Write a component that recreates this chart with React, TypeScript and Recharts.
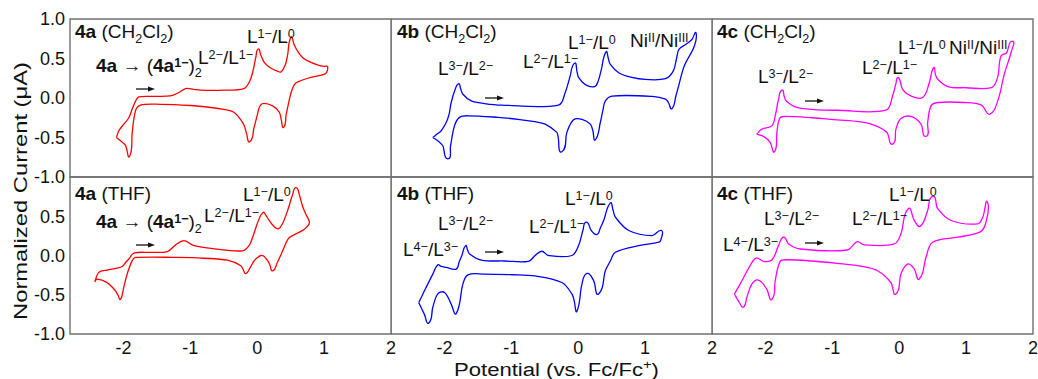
import { Line, LineChart, ReferenceArea, XAxis, YAxis } from "recharts";

const FONT = '"Liberation Sans", Arial, Helvetica, sans-serif';

// [potential (V vs Fc/Fc+), normalized current (µA)], loop order
const cv4aDcm: [number, number][] = [
	[-2.105, -0.5], [-2.07, -0.415], [-1.995, -0.33], [-1.92, -0.25], [-1.87, -0.14], [-1.82, -0.04],
	[-1.77, 0.013], [-1.55, 0.02], [-1.3, 0.026], [-1.17, 0.07], [-1.07, 0.12], [-0.95, 0.11],
	[-0.85, 0.1], [-0.5, 0.1], [-0.2, 0.12], [-0.12, 0.2], [-0.07, 0.32], [-0.02, 0.52], [0.015, 0.62],
	[0.05, 0.55], [0.105, 0.45], [0.2, 0.38], [0.3, 0.34], [0.355, 0.33], [0.42, 0.42], [0.455, 0.55],
	[0.505, 0.77], [0.55, 0.68], [0.605, 0.59], [0.68, 0.51], [0.755, 0.47], [0.9, 0.42], [1.0, 0.4],
	[1.05, 0.4], [1.04, 0.33], [1.0, 0.3], [0.755, 0.25], [0.6, 0.2], [0.555, 0.17], [0.51, 0.08],
	[0.48, -0.02], [0.43, -0.22], [0.395, -0.37], [0.36, -0.28], [0.33, -0.18], [0.23, -0.1],
	[0.08, -0.07], [0.03, -0.12], [0.005, -0.2], [-0.05, -0.38], [-0.11, -0.555], [-0.16, -0.45],
	[-0.205, -0.33], [-0.35, -0.18], [-0.5, -0.145], [-0.695, -0.12], [-1.0, -0.095], [-1.445, -0.08],
	[-1.745, -0.09], [-1.82, -0.16], [-1.87, -0.44], [-1.91, -0.74], [-1.97, -0.6], [-2.045, -0.54],
	[-2.105, -0.5],
];

const cv4aThf: [number, number][] = [
	[-2.43, -0.335], [-2.37, -0.215], [-2.245, -0.185], [-2.1, -0.16], [-2.02, -0.14], [-1.96, -0.08],
	[-1.92, -0.045], [-1.845, 0.03], [-1.6, 0.04], [-1.345, 0.05], [-1.22, 0.135], [-1.095, 0.19],
	[-0.945, 0.125], [-0.645, 0.085], [-0.22, 0.06], [-0.12, 0.13], [-0.07, 0.23], [0.02, 0.45],
	[0.09, 0.55], [0.13, 0.51], [0.18, 0.445], [0.25, 0.37], [0.315, 0.34], [0.38, 0.41], [0.455, 0.575],
	[0.53, 0.78], [0.58, 0.865], [0.63, 0.77], [0.68, 0.62], [0.73, 0.52], [0.78, 0.425], [0.75, 0.37],
	[0.68, 0.32], [0.48, 0.23], [0.43, 0.16], [0.38, 0.06], [0.3, -0.09], [0.23, -0.195], [0.19, -0.12],
	[0.155, -0.065], [0.1, -0.01], [0.055, 0.0], [0.0, -0.03], [-0.045, -0.065], [-0.11, -0.16],
	[-0.17, -0.23], [-0.21, -0.18], [-0.245, -0.13], [-0.445, -0.06], [-0.8, -0.035], [-1.195, -0.025],
	[-1.82, -0.025], [-1.87, -0.065], [-1.945, -0.235], [-2.0, -0.42], [-2.045, -0.56], [-2.08, -0.51],
	[-2.12, -0.45], [-2.245, -0.345], [-2.395, -0.3], [-2.43, -0.335],
];

const cv4bDcm: [number, number][] = [
	[-2.175, -0.5], [-2.1, -0.45], [-2.05, -0.415], [-1.975, -0.31], [-1.93, -0.2], [-1.9, -0.057],
	[-1.84, 0.11], [-1.79, 0.18], [-1.76, 0.12], [-1.725, 0.047], [-1.6, -0.037], [-1.4, -0.07],
	[-1.15, -0.09], [-0.295, -0.09], [-0.195, 0.07], [-0.12, 0.28], [-0.055, 0.44], [-0.02, 0.34],
	[0.005, 0.26], [0.105, 0.17], [0.245, 0.145], [0.3, 0.22], [0.345, 0.36], [0.415, 0.585], [0.45, 0.5],
	[0.48, 0.425], [0.605, 0.32], [0.8, 0.26], [1.005, 0.235], [1.305, 0.245], [1.42, 0.34], [1.47, 0.5],
	[1.505, 0.615], [1.61, 0.68], [1.7, 0.74], [1.76, 0.825], [1.735, 0.655], [1.585, 0.405], [1.5, 0.15],
	[1.46, 0.025], [1.4, -0.135], [1.35, -0.06], [1.305, -0.015], [1.11, 0.02], [0.505, 0.025],
	[0.405, -0.037], [0.37, -0.15], [0.33, -0.31], [0.255, -0.53], [0.22, -0.42], [0.18, -0.33],
	[0.055, -0.27], [-0.07, -0.275], [-0.17, -0.435], [-0.245, -0.68], [-0.3, -0.5], [-0.32, -0.435],
	[-0.495, -0.33], [-0.65, -0.3], [-0.9, -0.27], [-1.2, -0.245], [-1.65, -0.225], [-1.775, -0.245],
	[-1.85, -0.35], [-1.91, -0.605], [-1.95, -0.77], [-2.025, -0.605], [-2.1, -0.54], [-2.175, -0.5],
];

const cv4bThf: [number, number][] = [
	[-2.385, -0.6], [-2.3, -0.45], [-2.175, -0.237], [-2.1, -0.118], [-2.05, -0.14], [-1.975, -0.151],
	[-1.825, -0.173], [-1.78, -0.08], [-1.74, 0.0], [-1.685, 0.126], [-1.655, 0.07], [-1.625, 0.019],
	[-1.45, -0.058], [-1.1, -0.07], [-0.745, -0.075], [-0.645, 0.0], [-0.545, 0.054], [-0.445, 0.0],
	[-0.095, 0.0], [0.005, 0.126], [0.07, 0.32], [0.12, 0.425], [0.195, 0.318], [0.28, 0.267],
	[0.33, 0.35], [0.38, 0.446], [0.48, 0.67], [0.52, 0.58], [0.555, 0.49], [0.755, 0.318],
	[1.105, 0.254], [1.245, 0.318], [1.235, 0.2], [1.205, 0.169], [0.905, 0.126], [0.555, 0.041],
	[0.48, -0.07], [0.405, -0.195], [0.305, -0.49], [0.23, -0.32], [0.13, -0.228], [0.055, -0.365],
	[-0.02, -0.71], [-0.06, -0.58], [-0.095, -0.49], [-0.245, -0.344], [-0.645, -0.26], [-1.0, -0.245],
	[-1.4, -0.237], [-1.65, -0.246], [-1.725, -0.365], [-1.825, -0.74], [-1.9, -0.62], [-2.0, -0.47],
	[-2.1, -0.49], [-2.175, -0.66], [-2.235, -0.86], [-2.3, -0.75], [-2.385, -0.6],
];

const cv4cDcm: [number, number][] = [
	[-2.13, -0.457], [-2.055, -0.394], [-1.905, -0.353], [-1.855, -0.227], [-1.805, -0.016],
	[-1.755, 0.1], [-1.72, 0.02], [-1.69, -0.037], [-1.53, -0.12], [-1.2, -0.15], [-0.93, -0.155],
	[-0.2, -0.155], [-0.1, 0.026], [-0.05, 0.18], [-0.015, 0.258], [0.05, 0.11], [0.175, 0.026],
	[0.35, 0.006], [0.45, 0.195], [0.515, 0.384], [0.54, 0.3], [0.575, 0.237], [0.725, 0.145],
	[1.0, 0.13], [1.38, 0.132], [1.47, 0.258], [1.52, 0.53], [1.605, 0.573], [1.69, 0.72], [1.67, 0.573],
	[1.57, 0.3], [1.48, -0.016], [1.355, -0.205], [1.23, -0.09], [0.975, -0.057], [0.575, -0.057],
	[0.475, -0.1], [0.425, -0.31], [0.4, -0.486], [0.325, -0.33], [0.175, -0.234], [0.025, -0.26],
	[-0.05, -0.394], [-0.1, -0.584], [-0.185, -0.436], [-0.375, -0.344], [-0.6, -0.3], [-0.93, -0.277],
	[-1.3, -0.25], [-1.73, -0.234], [-1.79, -0.26], [-1.83, -0.436], [-1.865, -0.68], [-1.93, -0.562],
	[-2.03, -0.486], [-2.13, -0.457],
];

const cv4cThf: [number, number][] = [
	[-2.465, -0.49], [-2.38, -0.365], [-2.23, -0.13], [-2.14, -0.032], [-2.03, -0.075], [-1.905, -0.058],
	[-1.805, 0.126], [-1.73, 0.233], [-1.655, 0.147], [-1.48, 0.083], [-0.78, 0.07], [-0.63, 0.177],
	[-0.525, 0.135], [-0.075, 0.147], [0.025, 0.276], [0.135, 0.596], [0.225, 0.446], [0.315, 0.374],
	[0.425, 0.574], [0.5, 0.754], [0.575, 0.596], [0.775, 0.446], [1.175, 0.404], [1.25, 0.49],
	[1.32, 0.68], [1.29, 0.404], [1.205, 0.297], [0.875, 0.233], [0.5, 0.169], [0.4, -0.023],
	[0.3, -0.3], [0.225, -0.173], [0.125, -0.109], [0.025, -0.237], [-0.05, -0.49], [-0.125, -0.344],
	[-0.325, -0.195], [-0.55, -0.14], [-0.93, -0.1], [-1.3, -0.07], [-1.68, -0.054], [-1.78, -0.075],
	[-1.855, -0.32], [-1.905, -0.56], [-1.98, -0.43], [-2.105, -0.314], [-2.205, -0.365], [-2.28, -0.536],
	[-2.33, -0.656], [-2.39, -0.6], [-2.465, -0.49],
];

const X_TICKS = [-2, -1, 0, 1, 2];
const Y_TICKS_TOP = [1, 0.5, 0, -0.5, -1];
const Y_TICKS_BOTTOM = [0.5, 0, -0.5, -1];
const X_DOMAIN: [number, number] = [-2.8, 2];
const Y_DOMAIN: [number, number] = [-1, 1];

const COL_LEFT = [70, 391, 712];
const ROW_TOP = [19, 177];
const ROW_H = [158, 157];
const PLOT_W = 321;
const FRAME = "#707070";

const panels = [
	{ trace: cv4aDcm, color: "#ff0000", col: 0, row: 0 },
	{ trace: cv4bDcm, color: "#0000ff", col: 1, row: 0 },
	{ trace: cv4cDcm, color: "#ff00ff", col: 2, row: 0 },
	{ trace: cv4aThf, color: "#ff0000", col: 0, row: 1 },
	{ trace: cv4bThf, color: "#0000ff", col: 1, row: 1 },
	{ trace: cv4cThf, color: "#ff00ff", col: 2, row: 1 },
];

// markup: n: normal, b: bold, sup:, bsup: bold superscript, sub:
const DCM = "n: (CH|sub:2|n:Cl|sub:2|n:)";
const L43 = "n:L|sup:4−|n:/L|sup:3−";
const L32 = "n:L|sup:3−|n:/L|sup:2−";
const L21 = "n:L|sup:2−|n:/L|sup:1−";
const L10 = "n:L|sup:1−|n:/L|sup:0";
const NI = "n:Ni|sup:II|n:/Ni|sup:III";
const DIMER = "b:4a|n: → (|b:4a|bsup:1−|n:)|sub:2";

const labels: { x: number; y: number; m: string }[] = [
	{ x: 75, y: 38, m: "b:4a|" + DCM },
	{ x: 96, y: 72, m: DIMER },
	{ x: 198, y: 64, m: L21 },
	{ x: 247, y: 43, m: L10 },
	{ x: 75, y: 200, m: "b:4a|n: (THF)" },
	{ x: 96, y: 228, m: DIMER },
	{ x: 204, y: 222, m: L21 },
	{ x: 243, y: 201, m: L10 },
	{ x: 397, y: 38, m: "b:4b|" + DCM },
	{ x: 438, y: 75, m: L32 },
	{ x: 523, y: 68, m: L21 },
	{ x: 568, y: 49, m: L10 },
	{ x: 630, y: 47, m: NI },
	{ x: 397, y: 200, m: "b:4b|n: (THF)" },
	{ x: 438, y: 230, m: L32 },
	{ x: 403, y: 256, m: L43 },
	{ x: 529, y: 233, m: L21 },
	{ x: 565, y: 205, m: L10 },
	{ x: 717, y: 38, m: "b:4c|" + DCM },
	{ x: 758, y: 83, m: L32 },
	{ x: 862, y: 74, m: L21 },
	{ x: 898, y: 54, m: L10 },
	{ x: 949, y: 54, m: NI },
	{ x: 717, y: 200, m: "b:4c|n: (THF)" },
	{ x: 764, y: 225, m: L32 },
	{ x: 723, y: 251, m: L43 },
	{ x: 852, y: 225, m: L21 },
	{ x: 889, y: 201, m: L10 },
];

// scan direction arrows [x start, y]
const arrows: [number, number][] = [
	[136, 89], [136, 245], [485, 98], [485, 252], [805, 101], [805, 243],
];

// smooth curve through every point; handle lengths follow the local segment lengths so it does not overshoot
function throughPoints(context: any) {
	let pts: [number, number][] = [];
	return {
		areaStart() {},
		areaEnd() {},
		lineStart() {
			pts = [];
		},
		point(x: number, y: number) {
			pts.push([+x, +y]);
		},
		lineEnd() {
			const n = pts.length;
			if (!n) return;
			context.moveTo(pts[0][0], pts[0][1]);
			const dir = (i: number): [number, number] => {
				const a = pts[Math.max(i - 1, 0)];
				const b = pts[Math.min(i + 1, n - 1)];
				const dx = b[0] - a[0];
				const dy = b[1] - a[1];
				const l = Math.hypot(dx, dy) || 1;
				return [dx / l, dy / l];
			};
			for (let i = 0; i < n - 1; i++) {
				const p = pts[i];
				const q = pts[i + 1];
				const seg = Math.hypot(q[0] - p[0], q[1] - p[1]) / 3;
				const d1 = dir(i);
				const d2 = dir(i + 1);
				context.bezierCurveTo(
					p[0] + d1[0] * seg,
					p[1] + d1[1] * seg,
					q[0] - d2[0] * seg,
					q[1] - d2[1] * seg,
					q[0],
					q[1],
				);
			}
		},
	};
}

function RichText({ x, y, m, size = 19 }: { x: number; y: number; m: string; size?: number }) {
	let cur = 0;
	const segs = m.split("|").map((tok) => {
		const i = tok.indexOf(":");
		return { kind: tok.slice(0, i), t: tok.slice(i + 1) };
	});
	return (
		<text x={x} y={y} fontSize={size} fontFamily={FONT} fill="#111" style={{ whiteSpace: "pre" }}>
			{segs.map((s, i) => {
				const isSup = s.kind === "sup" || s.kind === "bsup";
				const isSub = s.kind === "sub";
				const off = isSup ? -size * 0.27 : isSub ? size * 0.24 : 0;
				const dy = off - cur;
				cur = off;
				return (
					<tspan
						key={i}
						dy={dy}
						fontSize={isSup || isSub ? size * 0.66 : size}
						fontWeight={s.kind === "b" || s.kind === "bsup" ? "bold" : "normal"}
					>
						{s.t}
					</tspan>
				);
			})}
		</text>
	);
}

function Panel({ trace, color, col, row }: { trace: [number, number][]; color: string; col: number; row: number }) {
	const showY = col === 0;
	const showX = row === 1;
	const yW = showY ? 70 : 0;
	const xH = showX ? 32 : 0;
	const padTop = 12;
	const padRight = 10;
	const padBottom = showX ? 0 : 12;
	const data = trace.map(([x, y]) => ({ x, y }));
	return (
		<div style={{ position: "absolute", left: COL_LEFT[col] - yW, top: ROW_TOP[row] - padTop }}>
			<LineChart
				width={yW + PLOT_W + padRight}
				height={padTop + ROW_H[row] + xH + padBottom}
				data={data}
				margin={{ top: padTop, right: padRight, bottom: padBottom, left: 0 }}
			>
				<XAxis
					dataKey="x"
					type="number"
					domain={X_DOMAIN}
					allowDataOverflow
					ticks={X_TICKS}
					interval={0}
					hide={!showX}
					height={xH}
					axisLine={false}
					tickLine={false}
					tickSize={6}
					tickMargin={1}
					tick={{ fontSize: 18, fill: "#111", fontFamily: FONT }}
				/>
				<YAxis
					type="number"
					domain={Y_DOMAIN}
					allowDataOverflow
					ticks={row === 0 ? Y_TICKS_TOP : Y_TICKS_BOTTOM}
					interval={0}
					hide={!showY}
					width={yW}
					axisLine={false}
					tickLine={false}
					tickSize={3}
					tickMargin={2}
					tickFormatter={(v: number) => v.toFixed(1)}
					tick={{ fontSize: 18, fill: "#111", fontFamily: FONT }}
				/>
				<ReferenceArea
					x1={X_DOMAIN[0]}
					x2={X_DOMAIN[1]}
					y1={Y_DOMAIN[0]}
					y2={Y_DOMAIN[1]}
					fill="none"
					stroke={FRAME}
					strokeWidth={1.4}
					ifOverflow="visible"
				/>
				<Line
					dataKey="y"
					type={throughPoints as any}
					stroke={color}
					strokeWidth={1.3}
					strokeLinejoin="round"
					dot={false}
					activeDot={false}
					isAnimationActive={false}
				/>
			</LineChart>
		</div>
	);
}

export default function App() {
	return (
		<div
			style={{
				position: "absolute",
				left: 0,
				top: 0,
				width: 1038,
				height: 379,
				overflow: "hidden",
				background: "#fff",
				fontFamily: FONT,
			}}
		>
			{panels.map((p, i) => (
				<Panel key={i} {...p} />
			))}
			<svg
				width={1038}
				height={379}
				style={{ position: "absolute", left: 0, top: 0, pointerEvents: "none" }}
			>
				{labels.map((l, i) => (
					<RichText key={i} x={l.x} y={l.y} m={l.m} />
				))}
				{arrows.map(([x, y], i) => (
					<g key={i}>
						<line x1={x} y1={y} x2={x + 13} y2={y} stroke="#111" strokeWidth={1.3} />
						<polygon points={`${x + 19},${y} ${x + 12},${y - 2.6} ${x + 12},${y + 2.6}`} fill="#111" />
					</g>
				))}
				<text
					x={454}
					y={376}
					fontSize={18}
					fontFamily={FONT}
					fill="#111"
					textLength={205}
					lengthAdjust="spacingAndGlyphs"
				>
					Potential (vs. Fc/Fc<tspan dy={-7} fontSize={12}>+</tspan>
					<tspan dy={7}>)</tspan>
				</text>
				<text
					transform="translate(27,191) rotate(-90)"
					x={-129}
					y={0}
					fontSize={18}
					fontFamily={FONT}
					fill="#111"
					textLength={258}
					lengthAdjust="spacingAndGlyphs"
				>
					Normalized Current (μA)
				</text>
			</svg>
		</div>
	);
}
